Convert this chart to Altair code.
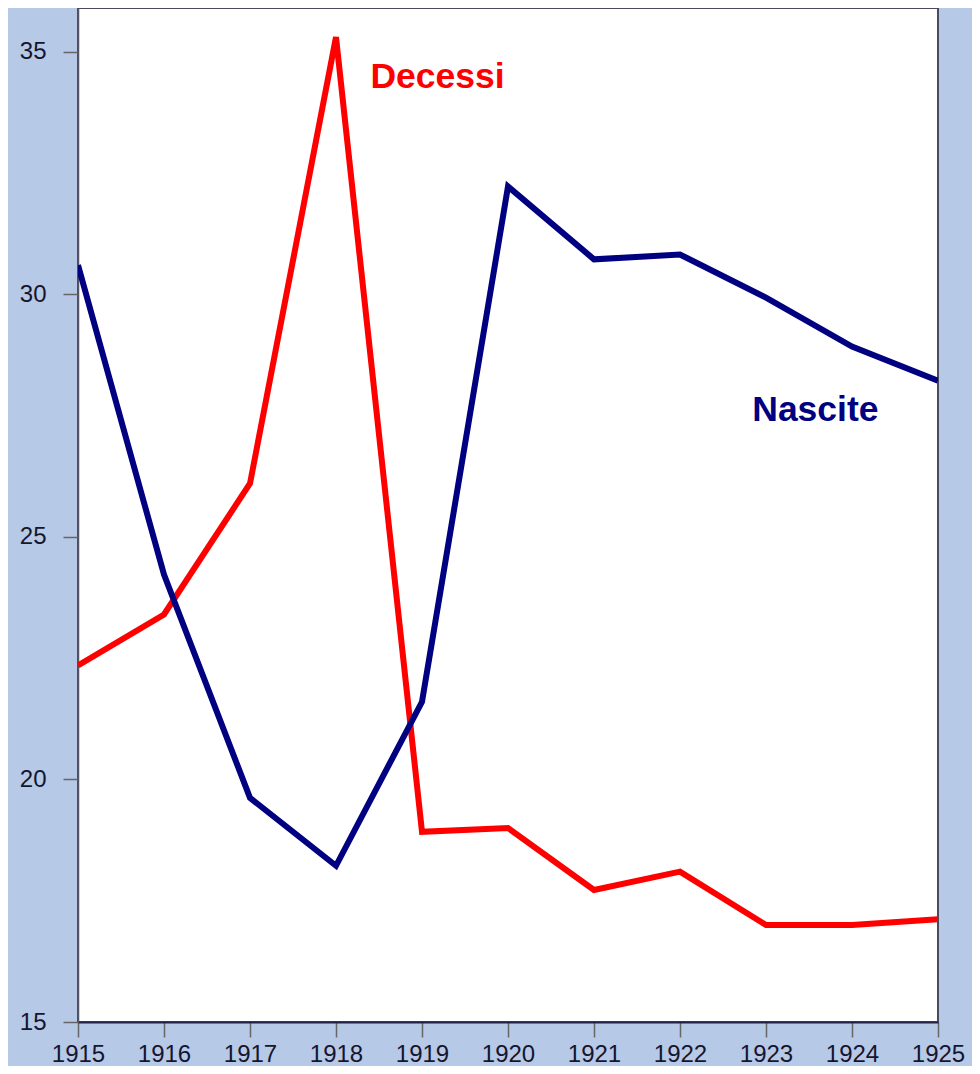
import altair as alt
import pandas as pd

years = [1915, 1916, 1917, 1918, 1919, 1920, 1921, 1922, 1923, 1924, 1925]
decessi = [22.35, 23.4, 26.1, 35.3, 18.92, 19.0, 17.72, 18.1, 17.0, 17.0, 17.12]
nascite = [30.6, 24.22, 19.62, 18.22, 21.6, 32.22, 30.72, 30.82, 29.93, 28.92, 28.22]

series_names = ["Decessi", "Nascite"]
series_colors = ["#FF0000", "#000080"]

label_text = ["Decessi", "Nascite"]
label_x = [1918.4, 1922.84]
label_y = [34.48, 27.62]

rows = []
for name, vals in zip(series_names, [decessi, nascite]):
    for yr, v in zip(years, vals):
        rows.append({"anno": yr, "valore": v, "serie": name})
df = pd.DataFrame(rows)
labels = pd.DataFrame({"testo": label_text, "anno": label_x, "valore": label_y, "serie": series_names})

x_scale = alt.Scale(domain=[1915, 1925], nice=False, zero=False)
y_scale = alt.Scale(domain=[15, 35.9], nice=False, zero=False)
color_scale = alt.Scale(domain=series_names, range=series_colors)

lines = alt.Chart(df).mark_line(strokeWidth=6, strokeJoin="miter", clip=True).encode(
    x=alt.X("anno:Q", scale=x_scale,
            axis=alt.Axis(values=years, format="d", title=None, grid=False,
                          tickSize=15, tickColor="#666666", tickWidth=1.5,
                          domainColor="#22224a", domainWidth=2,
                          labelFontSize=24, labelFont="Liberation Sans",
                          labelColor="#15152e", labelPadding=5, labelFlush=False)),
    y=alt.Y("valore:Q", scale=y_scale,
            axis=alt.Axis(values=[15, 20, 25, 30, 35], title=None, grid=False,
                          tickSize=15, tickColor="#666666", tickWidth=1.5,
                          domainColor="#555566", domainWidth=1.5,
                          labelFontSize=24, labelFont="Liberation Sans",
                          labelColor="#15152e", labelPadding=17)),
    color=alt.Color("serie:N", scale=color_scale, legend=None),
    detail="serie:N",
)

texts = alt.Chart(labels).mark_text(
    align="left", baseline="middle", fontSize=35.5, fontWeight="bold", font="Liberation Sans"
).encode(
    x=alt.X("anno:Q", scale=x_scale),
    y=alt.Y("valore:Q", scale=y_scale),
    text="testo:N",
    color=alt.Color("serie:N", scale=color_scale, legend=None),
)

chart = alt.layer(lines, texts).properties(
    width=860, height=1014,
    background="#B6C9E7",
    padding={"left": 70, "top": 0, "right": 34, "bottom": 44},
    autosize=alt.AutoSizeParams(type="none"),
).configure_view(
    fill="white", stroke="#4a4a62", strokeWidth=2
)

chart.save("out.html", embed_options={"renderer": "svg", "actions": False})
